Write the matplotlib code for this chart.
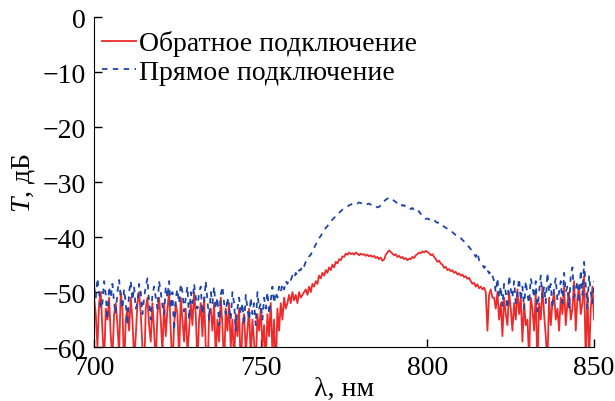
import matplotlib.pyplot as plt
import numpy as np

plt.rcParams['font.family'] = ['Liberation Serif', 'DejaVu Serif']
plt.rcParams['mathtext.fontset'] = 'custom'
plt.rcParams['mathtext.it'] = 'Liberation Serif:italic'
plt.rcParams['mathtext.rm'] = 'Liberation Serif'

# wavelength grid, 0.5 nm step from 700 to 850 nm
wavelength = np.arange(700, 850.01, 0.5)

# reverse connection (red), dB
t_reverse = [
    -51, -54, -60, -52, -50, -57, -63, -53, -55, -51, -58, -62, -54, -52, -56, -61, -50, -53, -64, -55,
    -53, -57, -51, -55, -62, -58, -52, -50, -54, -60, -65, -53, -51, -56, -59, -52, -57, -63, -54, -51,
    -55, -61, -52, -58, -53, -50, -57, -64, -56, -52, -54, -62, -51, -55, -59, -53, -61, -57, -52, -56,
    -50, -54, -63, -55, -52, -58, -51, -60, -66, -54, -53, -57, -52, -62, -55, -59, -51, -56, -64, -53,
    -57, -52, -60, -55, -63, -54, -58, -53, -65, -56, -54, -61, -57, -53, -62, -55, -59, -64, -54, -57,
    -53, -60, -56, -63, -54, -58, -52, -61, -55, -65, -53, -57, -52, -55, -51, -53, -52, -50.5, -52, -50,
    -51.5, -50.5, -52, -50, -51, -50.5, -50, -49.5, -50.5, -49, -50, -48.5, -49, -48, -48.5, -47, -47.5, -46.5, -47, -46,
    -46.5, -45.5, -46, -45, -45.5, -44.5, -44.8, -44, -44.2, -43.5, -43.6, -43, -43.2, -42.8, -43.1, -42.9, -43.2, -42.8, -43, -43.3,
    -43, -43.2, -43.1, -43.4, -43.2, -43.5, -43.3, -43.6, -43.4, -43.8, -43.6, -44.0, -43.7, -44.3, -44.1, -43.2, -42.8, -42.4, -42.7, -43.0,
    -43.3, -43.1, -43.6, -43.4, -43.8, -43.6, -44.0, -43.8, -44.2, -43.9, -44.0, -43.6, -43.8, -43.3, -43.1, -42.8, -42.9, -42.6, -42.8, -42.5,
    -42.7, -42.9, -43.3, -43.1, -43.6, -44.0, -44.5, -44.3, -44.8, -45.0, -45.6, -45.4, -46.0, -45.8, -46.2, -46.0, -46.5, -46.3, -46.8, -46.6,
    -47.0, -46.8, -47.3, -47.1, -47.6, -47.4, -48.0, -48.5, -48.3, -49.0, -48.6, -49.3, -49.0, -49.5, -49.2, -50.0, -57, -50.5, -49.5, -51,
    -51, -53, -50, -55, -52, -58, -51, -54, -56, -50, -53, -57, -52, -55, -49.5, -54, -51, -59, -52, -56,
    -55, -62, -51, -53, -57, -50, -64, -52, -55, -49, -54, -58, -63, -51, -56, -52, -50, -55, -53, -57,
    -51, -54, -49, -56, -52, -50, -55, -53, -48, -57, -51, -49, -54, -52, -47, -63, -50, -62, -53, -49,
    -55,
]

# forward connection (blue), dB
t_forward = [
    -49, -51, -47.5, -50, -53, -52, -48, -50.5, -55, -49, -51, -48.5, -52, -54, -50, -47.8, -51, -53, -49.5, -52,
    -56, -50, -48, -51.5, -49, -53, -52, -48.5, -50, -54, -51, -49, -47.5, -52, -55, -50.5, -49, -51, -53, -48,
    -50, -52.5, -54, -49, -51, -48, -53, -50, -57, -51, -49.5, -52, -48.5, -50, -53.5, -51, -49, -55, -50, -52,
    -48.5, -51, -53, -50, -49, -54, -52, -48, -51.5, -55, -50, -52, -49, -53, -51, -56, -50.5, -49, -52, -54,
    -51, -53, -55, -50, -52, -57, -53, -51, -54, -52, -56, -50.5, -53, -55, -51, -54, -52, -56, -50, -53,
    -52, -55, -51, -53, -50, -54, -51.5, -49, -52, -50, -51, -49, -50, -48.5, -49.5, -48, -48.5, -47.5, -47.8, -47,
    -47.5, -46.5, -47, -46, -46, -45, -45.3, -44.5, -44.2, -43.5, -43.2, -42.5, -42, -41.3, -41, -40.2, -39.8, -39.2, -38.8, -38.3,
    -38, -37.5, -37.2, -36.8, -36.5, -36.2, -36, -35.6, -35.3, -35, -34.8, -34.6, -34.5, -34.2, -34.1, -33.9, -34, -33.8, -33.9, -33.7,
    -33.8, -33.9, -33.7, -33.9, -34.0, -33.9, -34.1, -34.0, -34.2, -34.4, -34.6, -34.5, -34.2, -33.9, -33.5, -33.2, -33.0, -32.8, -32.9, -33.1,
    -33.4, -33.6, -33.9, -34.1, -33.9, -34.3, -34.2, -34.5, -34.4, -34.6, -34.9, -34.7, -35.1, -35.0, -35.4, -35.3, -35.8, -36.1, -36.4, -36.7,
    -36.6, -36.8, -36.7, -37.0, -36.9, -37.2, -37.4, -37.3, -37.7, -37.9, -38.1, -38.3, -38.5, -38.8, -39.0, -39.1, -39.4, -39.6, -39.7, -40.0,
    -40.2, -40.5, -40.8, -41.1, -41.5, -41.8, -42.2, -42.6, -43.0, -43.6, -42.8, -44.2, -44.6, -45.0, -45.6, -45.2, -46.0, -46.6, -46.2, -47.0,
    -48, -50, -47.5, -51, -49, -52.5, -48.5, -50, -53, -47, -49.5, -51, -48, -52, -50, -47.5, -51.5, -49, -53, -48,
    -50.5, -52, -47.5, -49, -51, -48, -53.5, -50, -47, -51, -49, -52, -46.5, -50, -48.5, -53, -49, -47.5, -51.5, -50,
    -48, -52, -46.5, -50, -49, -53, -47, -45.5, -51, -49.5, -48, -52, -46, -50.5, -44.5, -49, -53, -47, -50, -52,
    -48,
]

fig = plt.figure(figsize=(6.15, 4.02), dpi=100)
ax = fig.add_axes([0.153, 0.134, 0.813, 0.821])

ax.plot(wavelength, t_reverse, color='#ee2a2a', lw=1.3, label='Обратное подключение')
ax.plot(wavelength, t_forward, color='#1f45a8', lw=1.3, ls=(0, (3, 3)), label='Прямое подключение')

ax.set_xlim(700, 850)
ax.set_ylim(-60, 0)
ax.set_xticks([700, 750, 800, 850])
ax.set_yticks(range(-60, 1, 10))
ax.tick_params(direction='in', length=6, width=1, labelsize=20, pad=6)
ax.spines['top'].set_visible(False)
ax.spines['right'].set_visible(False)

ax.set_xlabel('λ, нм', fontsize=20, labelpad=-3)
ax.set_ylabel('$T$, дБ', fontsize=20, labelpad=4)

ax.legend(loc='upper left', bbox_to_anchor=(0.0, 0.985), frameon=False, fontsize=20,
          handlelength=1.2, handletextpad=0.1, labelspacing=0.12, borderaxespad=0.0,
          borderpad=0.3)

fig.savefig('out.png', dpi=100)
